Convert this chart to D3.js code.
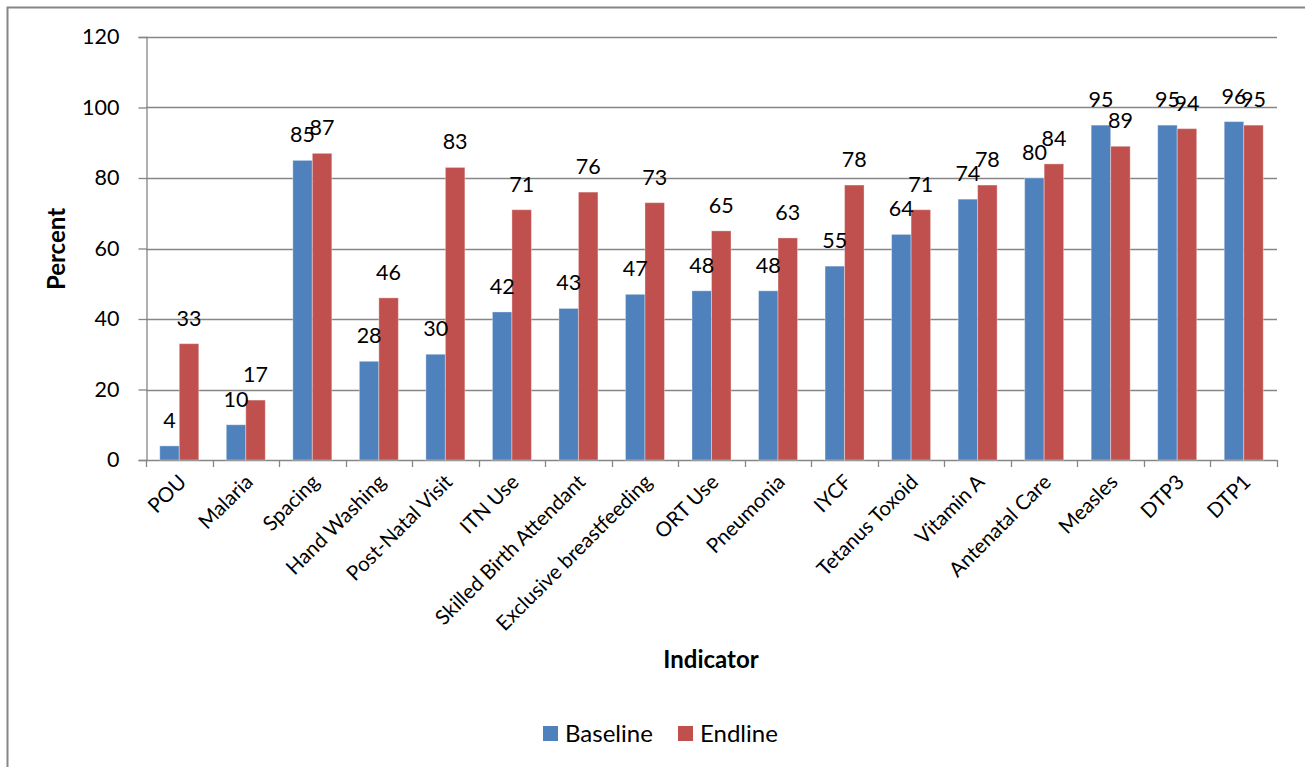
<!DOCTYPE html>
<html>
<head>
<meta charset="utf-8">
<script src="https://cdn.jsdelivr.net/npm/d3@7"></script>
<style>
  html, body { margin: 0; padding: 0; background: #fff; }
  svg { display: block; }
  text { font-family: Lato, "Open Sans", sans-serif; fill: #000; }
</style>
</head>
<body>
<svg id="chart" width="1305" height="767"></svg>
<script>
// Indicator coverage, baseline vs endline survey (percent)
const categories = ["POU", "Malaria", "Spacing", "Hand Washing", "Post-Natal Visit", "ITN Use",
  "Skilled Birth Attendant", "Exclusive breastfeeding", "ORT Use", "Pneumonia", "IYCF",
  "Tetanus Toxoid", "Vitamin A", "Antenatal Care", "Measles", "DTP3", "DTP1"];
const baseline = [4, 10, 85, 28, 30, 42, 43, 47, 48, 48, 55, 64, 74, 80, 95, 95, 96];
const endline  = [33, 17, 87, 46, 83, 71, 76, 73, 65, 63, 78, 71, 78, 84, 89, 94, 95];
const seriesNames = ["Baseline", "Endline"];
const yTicks = [0, 20, 40, 60, 80, 100, 120];

const colors = { Baseline: "#4F81BD", Endline: "#C0504D" };
const gridColor = "#868686";

const svg = d3.select("#chart");

// outer chart frame
svg.append("rect")
  .attr("x", 7.5).attr("y", 7.5)
  .attr("width", 1320).attr("height", 780)
  .attr("fill", "none").attr("stroke", gridColor).attr("stroke-width", 2);

const plot = { left: 146, right: 1277, top: 37, bottom: 460 };

const x = d3.scaleBand().domain(categories).range([plot.left, plot.right]);
const inner = d3.scaleBand().domain(seriesNames).range([0, 39]);
const y = d3.scaleLinear().domain([0, 120]).range([plot.bottom, plot.top]);

const rows = categories.map((c, i) => ({ cat: c, Baseline: baseline[i], Endline: endline[i] }));

// horizontal gridlines
svg.append("g")
  .selectAll("line").data(yTicks.filter(d => d > 0)).join("line")
  .attr("x1", plot.left).attr("x2", plot.right)
  .attr("y1", d => Math.round(y(d)) + 0.5).attr("y2", d => Math.round(y(d)) + 0.5)
  .attr("stroke", gridColor).attr("stroke-width", 1.3);

// y axis
const yAxis = svg.append("g")
  .attr("transform", `translate(${plot.left + 0.5},0)`)
  .call(d3.axisLeft(y).tickValues(yTicks).tickSize(8).tickPadding(19));
yAxis.select(".domain").attr("stroke", gridColor).attr("stroke-width", 1.3);
yAxis.selectAll(".tick line").attr("stroke", gridColor).attr("stroke-width", 1.3);
yAxis.selectAll(".tick text")
  .style("font-family", "Lato, sans-serif").attr("font-size", 21.5).attr("fill", "#000");

// x axis line and category boundary ticks
const xAxisG = svg.append("g");
xAxisG.append("line")
  .attr("x1", plot.left).attr("x2", plot.right)
  .attr("y1", plot.bottom + 0.5).attr("y2", plot.bottom + 0.5)
  .attr("stroke", gridColor).attr("stroke-width", 1.3);
const bounds = categories.map(c => x(c)).concat([plot.right]);
xAxisG.selectAll("line.tk").data(bounds).join("line")
  .attr("class", "tk")
  .attr("x1", d => Math.round(d) + 0.5).attr("x2", d => Math.round(d) + 0.5)
  .attr("y1", plot.bottom).attr("y2", plot.bottom + 7)
  .attr("stroke", gridColor).attr("stroke-width", 1.3);

// category labels, rotated
xAxisG.selectAll("text").data(categories).join("text")
  .attr("transform", d => `translate(${x(d) + x.bandwidth() / 2 - 2},${plot.bottom + 13}) rotate(-45)`)
  .attr("text-anchor", "end")
  .attr("dy", "0.71em")
  .attr("font-size", 20.5)
  .text(d => d);

// bars
const groupOffset = (x.bandwidth() - 39) / 2;
const groups = svg.append("g").selectAll("g").data(rows).join("g")
  .attr("transform", d => `translate(${x(d.cat) + groupOffset},0)`);

groups.selectAll("rect").data(d => seriesNames.map(s => ({ s, v: d[s] }))).join("rect")
  .attr("x", d => inner(d.s))
  .attr("y", d => y(d.v))
  .attr("width", inner.bandwidth())
  .attr("height", d => y(0) - y(d.v))
  .attr("fill", d => colors[d.s])
  .attr("stroke", "rgba(255,255,255,0.35)")
  .attr("stroke-width", 1);

// value labels
groups.selectAll("text").data(d => seriesNames.map(s => ({ s, v: d[s] }))).join("text")
  .attr("x", d => inner(d.s) + inner.bandwidth() / 2)
  .attr("y", d => y(d.v) - 18)
  .attr("text-anchor", "middle")
  .attr("font-size", 21.5)
  .text(d => d.v);

// axis titles
svg.append("text")
  .attr("transform", `translate(65,249) rotate(-90)`)
  .attr("text-anchor", "middle")
  .attr("font-size", 24)
  .attr("font-weight", "bold")
  .text("Percent");

svg.append("text")
  .attr("x", 711).attr("y", 668)
  .attr("text-anchor", "middle")
  .attr("font-size", 24)
  .attr("font-weight", "bold")
  .text("Indicator");

// legend
const legend = svg.append("g").attr("transform", "translate(543,726)");
const legendX = [0, 135];
seriesNames.forEach((s, i) => {
  const g = legend.append("g").attr("transform", `translate(${legendX[i]},0)`);
  g.append("rect").attr("width", 15).attr("height", 15).attr("fill", colors[s]);
  g.append("text").attr("x", 22).attr("y", 16).attr("font-size", 24).text(s);
});
</script>
</body>
</html>
